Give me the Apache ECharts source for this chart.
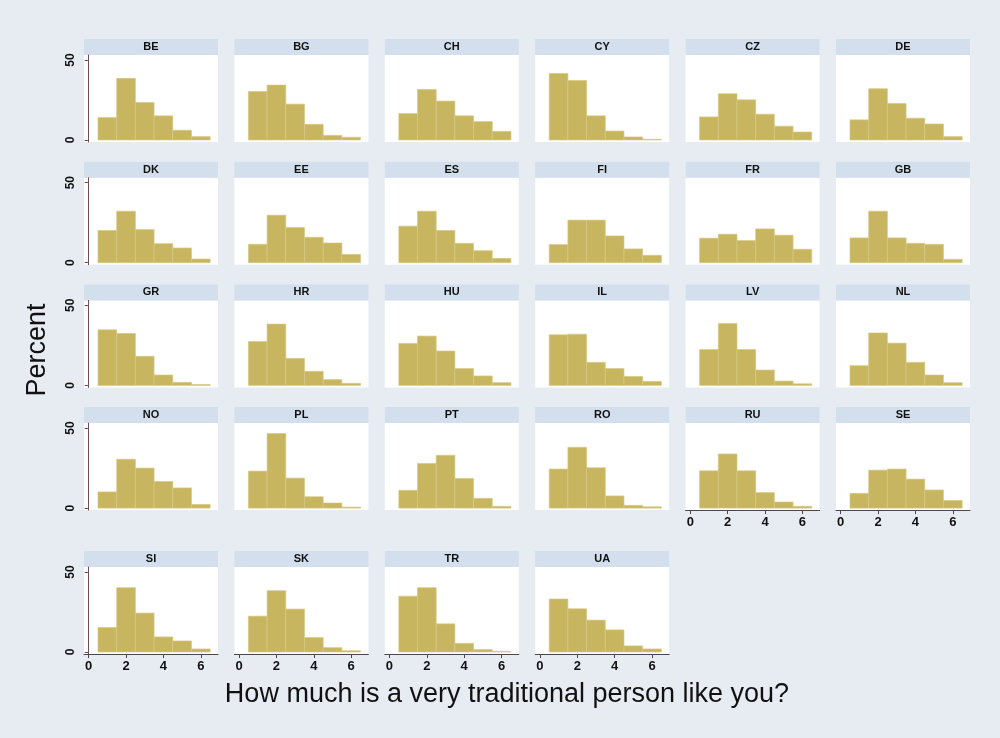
<!DOCTYPE html>
<html><head><meta charset="utf-8">
<script src="https://cdn.jsdelivr.net/npm/echarts@6/dist/echarts.min.js"></script>
<style>html,body{margin:0;padding:0;background:#e7ecf3;}#c{width:1000px;height:738px;}</style>
</head><body><div id="c"></div>
<script>
// Response categories (bins centred on 1..6)
const categories = [1, 2, 3, 4, 5, 6];
const xTicks = [0, 2, 4, 6];
const yTicks = [0, 50];
const countries = ['BE','BG','CH','CY','CZ','DE','DK','EE','ES','FI','FR','GB','GR','HR','HU','IL','LV','NL','NO','PL','PT','RO','RU','SE','SI','SK','TR','UA'];

// Percent per category, per country
const BE = [14.0, 38.5, 23.4, 15.1, 6.1, 2.1];
const BG = [30.3, 34.3, 22.4, 9.8, 2.9, 1.7];
const CH = [16.5, 31.6, 24.3, 15.1, 11.5, 5.4];
const CY = [41.6, 37.2, 15.1, 5.6, 1.9, 0.4];
const CZ = [14.4, 28.9, 25.1, 16.1, 8.6, 5.0];
const DE = [12.6, 32.0, 22.8, 13.6, 10.0, 2.1];
const DK = [20.1, 32.2, 20.7, 11.9, 9.2, 2.3];
const EE = [11.5, 29.7, 22.0, 15.9, 12.3, 5.2];
const ES = [22.8, 32.2, 20.1, 12.1, 7.5, 2.7];
const FI = [11.3, 26.6, 26.6, 16.7, 8.6, 4.6];
const FR = [15.3, 17.8, 13.8, 21.1, 17.2, 8.4];
const GB = [15.5, 32.2, 15.5, 12.1, 11.5, 2.1];
const GR = [34.7, 32.4, 18.2, 6.5, 1.9, 0.6];
const HR = [27.4, 38.3, 16.9, 8.8, 3.6, 1.3];
const HU = [26.2, 30.8, 21.5, 10.5, 5.9, 1.7];
const IL = [31.6, 32.0, 14.4, 10.5, 5.6, 2.5];
const LV = [22.4, 38.7, 22.4, 9.6, 2.7, 1.0];
const NL = [12.3, 32.8, 26.4, 14.4, 6.5, 1.7];
const NO = [10.1, 30.5, 25.0, 16.6, 12.6, 2.3];
const PL = [23.1, 46.6, 18.7, 7.1, 3.2, 0.6];
const PT = [11.1, 27.9, 33.0, 18.5, 6.1, 1.1];
const RO = [24.4, 38.0, 25.2, 7.6, 1.7, 0.8];
const RU = [23.3, 33.8, 23.3, 9.7, 3.8, 1.1];
const SE = [9.2, 23.7, 24.4, 18.1, 11.3, 4.8];
const SI = [15.3, 40.2, 24.3, 9.4, 6.9, 1.9];
const SK = [22.4, 38.3, 26.8, 9.0, 2.7, 0.8];
const TR = [34.9, 40.2, 17.6, 5.4, 1.5, 0.4];
const UA = [33.1, 27.0, 19.9, 13.8, 3.8, 1.9];
const seriesValues = [BE,BG,CH,CY,CZ,DE,DK,EE,ES,FI,FR,GB,GR,HR,HU,IL,LV,NL,NO,PL,PT,RO,RU,SE,SI,SK,TR,UA];

const xTitle = 'How much is a very traditional person like you?';
const yTitle = 'Percent';

// ---- layout ----
const FONT = 'Liberation Sans, Arial, sans-serif';
const panelW = 134, panelH = 87, stripH = 16;
function panelLeft(c) { return 84 + 150.4 * c; }
function panelTop(r) { return r < 4 ? 55 + 122.7 * r : 567; }
const nCols = 6;

const grids = [], xAxes = [], yAxes = [], series = [], graphics = [];
countries.forEach((name, i) => {
  const r = Math.floor(i / nCols), c = i % nCols;
  const left = panelLeft(c), top = panelTop(r);
  const showX = i + nCols >= countries.length;
  const showY = c === 0;
  grids.push({left: left, top: top, width: panelW, height: panelH, show: true,
    backgroundColor: '#ffffff', borderWidth: 0, containLabel: false});
  xAxes.push({type: 'value', gridIndex: i, min: -0.25, max: 6.92,
    splitLine: {show: false},
    axisLine: {show: showX, onZero: false, lineStyle: {color: '#4d4452', width: 1}},
    axisTick: {show: showX, customValues: xTicks, length: 4, lineStyle: {color: '#4d4452'}},
    axisLabel: {show: showX, customValues: xTicks, color: '#111', fontSize: 13, fontWeight: 'bold', fontFamily: FONT, margin: 6}
  });
  yAxes.push({type: 'value', gridIndex: i, min: -1.25, max: 53.1, offset: 2,
    splitLine: {show: false},
    axisLine: {show: showY, lineStyle: {color: '#6e4f55', width: 1}},
    axisTick: {show: showY, customValues: yTicks, length: 4, lineStyle: {color: '#6e4f55'}},
    axisLabel: {show: showY, customValues: yTicks, rotate: 90, color: '#111', fontSize: 12, fontWeight: 'bold', fontFamily: FONT, margin: 5}
  });
  series.push({type: 'custom', xAxisIndex: i, yAxisIndex: i,
    data: categories.map((k, j) => [k, seriesValues[i][j]]),
    encode: {x: 0, y: 1},
    renderItem: function (params, api) {
      const x = api.value(0), y = api.value(1);
      const p0 = api.coord([x - 0.5, y]);
      const p1 = api.coord([x + 0.5, 0]);
      return {type: 'rect',
        shape: {x: p0[0], y: p0[1], width: p1[0] - p0[0], height: p1[1] - p0[1]},
        style: {fill: '#c8b55f', stroke: '#d6c885', lineWidth: 0.7}};
    },
    silent: true
  });
  graphics.push({type: 'rect', left: left, top: top - stripH,
    shape: {width: panelW, height: stripH}, style: {fill: '#d3dfed'}, silent: true});
  graphics.push({type: 'text', x: left + panelW / 2, y: top - stripH / 2,
    style: {text: name, fill: '#111', font: 'bold 11px ' + FONT, textAlign: 'center', textVerticalAlign: 'middle'}, silent: true});
});
graphics.push({type: 'text', x: 507, y: 695,
  style: {text: xTitle, fill: '#111', font: '27px ' + FONT, textAlign: 'center', textVerticalAlign: 'middle'}});
graphics.push({type: 'text', x: 38, y: 350, rotation: Math.PI / 2,
  style: {text: yTitle, fill: '#111', font: '27px ' + FONT, textAlign: 'center', textVerticalAlign: 'middle'}});

const chart = echarts.init(document.getElementById('c'), null, {renderer: 'canvas'});
chart.setOption({
  backgroundColor: '#e7ecf3',
  animation: false,
  grid: grids, xAxis: xAxes, yAxis: yAxes, series: series,
  graphic: graphics
});
</script></body></html>
